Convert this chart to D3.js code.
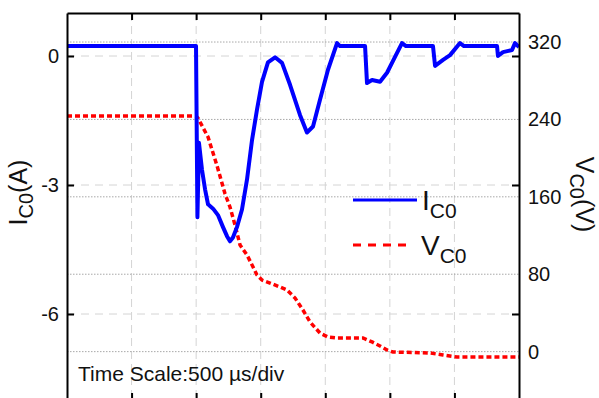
<!DOCTYPE html>
<html>
<head>
<meta charset="utf-8">
<script src="https://cdn.jsdelivr.net/npm/d3@7"></script>
<style>
  body { margin: 0; background: #fff; }
  svg { display: block; font-family: Arial, "Liberation Sans", sans-serif; }
</style>
</head>
<body>
<script>
// current I_C0 (A) vs time (us)
const iTime = [0, 999, 1010, 1022, 1045, 1069, 1092, 1131, 1169, 1208, 1239, 1262, 1285, 1316, 1355, 1394, 1433, 1471, 1510, 1556, 1611, 1665, 1727, 1804, 1858, 1905, 1959, 2021, 2091, 2114, 2308, 2323, 2362, 2424, 2478, 2540, 2594, 2625, 2834, 2850, 2912, 2966, 3043, 3074, 3330, 3337, 3376, 3446, 3469, 3500];
const iValue = [0.23, 0.23, -3.75, -2.02, -2.64, -3.10, -3.45, -3.55, -3.70, -3.98, -4.19, -4.31, -4.22, -3.98, -3.57, -2.87, -1.95, -1.25, -0.6, -0.15, -0.03, -0.16, -0.67, -1.37, -1.78, -1.64, -1.02, -0.32, 0.30, 0.23, 0.23, -0.63, -0.56, -0.60, -0.39, -0.02, 0.30, 0.23, 0.23, -0.23, -0.09, 0.02, 0.30, 0.23, 0.23, 0.0, 0.09, 0.14, 0.30, 0.21];

// voltage V_C0 (V) vs time (us)
const vTime = [0, 999, 1014, 1092, 1162, 1223, 1262, 1301, 1340, 1394, 1433, 1471, 1510, 1572, 1649, 1704, 1766, 1827, 1882, 1959, 2021, 2091, 2292, 2362, 2424, 2478, 2524, 2811, 2912, 3020, 3500];
const vValue = [243.5, 243.5, 241.4, 221.8, 192, 163.4, 149.5, 130.9, 110.2, 99.8, 89.5, 79.2, 74.0, 70.9, 66.8, 63.7, 55.4, 43.0, 30.6, 19.2, 15.1, 14.1, 14.1, 10.0, 5.8, 1.7, -0.4, -1.4, -3.5, -5.6, -5.6];

const xTicks = [500, 1000, 1500, 2000, 2500, 3000];
const leftTicks = [-6, -3, 0];
const rightTicks = [0, 80, 160, 240, 320];

const width = 599, height = 398;
const x0 = 67, x1 = 519, yTop = 13, yBot = 400;

const svg = d3.select("body").append("svg")
  .attr("width", width).attr("height", height);

const x = d3.scaleLinear().domain([0, 3500]).range([x0, x1]);
const yL = d3.scaleLinear().domain([-8, 1]).range([yBot, yTop]);
const yR = d3.scaleLinear().domain([-50, 350]).range([yBot, yTop]);

// grid
const grid = svg.append("g");
grid.selectAll(".vg").data(xTicks).join("line")
  .attr("x1", d => x(d)).attr("x2", d => x(d))
  .attr("y1", yTop).attr("y2", yBot)
  .attr("stroke", "#d4d4d4").attr("stroke-width", 1).attr("stroke-dasharray", "8,5");
grid.selectAll(".hl").data(leftTicks).join("line")
  .attr("x1", x0).attr("x2", x1)
  .attr("y1", d => yL(d)).attr("y2", d => yL(d))
  .attr("stroke", "#d4d4d4").attr("stroke-width", 1).attr("stroke-dasharray", "8,6");
grid.selectAll(".hr").data(rightTicks).join("line")
  .attr("x1", x0).attr("x2", x1)
  .attr("y1", d => yR(d)).attr("y2", d => yR(d))
  .attr("stroke", "#a8a8a8").attr("stroke-width", 1).attr("stroke-dasharray", "1.5,1.5");

// curves
svg.append("clipPath").attr("id", "clip")
  .append("rect").attr("x", x0).attr("y", yTop).attr("width", x1 - x0).attr("height", yBot - yTop);

const lineI = d3.line().x(d => x(d[0])).y(d => yL(d[1]));
const lineV = d3.line().x(d => x(d[0])).y(d => yR(d[1]));

svg.append("path")
  .datum(vTime.map((t, i) => [t, vValue[i]]))
  .attr("clip-path", "url(#clip)")
  .attr("d", lineV)
  .attr("fill", "none").attr("stroke", "#ff0000").attr("stroke-width", 3.5)
  .attr("stroke-dasharray", "5,3");

svg.append("path")
  .datum(iTime.map((t, i) => [t, iValue[i]]))
  .attr("clip-path", "url(#clip)")
  .attr("d", lineI)
  .attr("fill", "none").attr("stroke", "#0000ff").attr("stroke-width", 4)
  .attr("stroke-linejoin", "round");

// axes
function styleAxis(g) {
  g.select(".domain").attr("stroke", "#000").attr("stroke-width", 2);
  g.selectAll(".tick line").attr("stroke", "#000").attr("stroke-width", 2);
  g.selectAll(".tick text").attr("fill", "#111").attr("font-size", 20)
    .attr("font-family", "Arial, 'Liberation Sans', sans-serif");
}

svg.append("g").attr("transform", `translate(0,${yTop})`)
  .call(d3.axisTop(x).tickValues(xTicks).tickSizeInner(-7).tickSizeOuter(0).tickFormat(""))
  .call(styleAxis);
svg.append("g").attr("transform", `translate(0,${yBot})`)
  .call(d3.axisBottom(x).tickValues(xTicks).tickSizeInner(-7).tickSizeOuter(0).tickFormat(""))
  .call(styleAxis);
svg.append("g").attr("transform", `translate(${x0},0)`)
  .call(d3.axisLeft(yL).tickValues(leftTicks).tickSizeInner(-7).tickSizeOuter(0).tickPadding(8).tickFormat(d => String(d)))
  .call(styleAxis);
svg.append("g").attr("transform", `translate(${x1},0)`)
  .call(d3.axisRight(yL).tickValues(leftTicks).tickSizeInner(-7).tickSizeOuter(0).tickFormat(""))
  .call(styleAxis);
svg.append("g").attr("transform", `translate(${x1},0)`)
  .call(d3.axisRight(yR).tickValues(rightTicks).tickSize(0).tickPadding(9))
  .call(styleAxis)
  .call(g => g.select(".domain").remove());

// axis titles
const lt = svg.append("text")
  .attr("transform", `translate(27,${(yTop + yBot) / 2 - 14}) rotate(-90)`)
  .attr("text-anchor", "middle").attr("font-size", 25).attr("fill", "#111");
lt.append("tspan").text("I");
lt.append("tspan").attr("font-size", 20).attr("dy", 6).text("C0");
lt.append("tspan").attr("dy", -6).text("(A)");

const rt = svg.append("text")
  .attr("transform", `translate(576,${(yTop + yBot) / 2 - 12}) rotate(90)`)
  .attr("text-anchor", "middle").attr("font-size", 25).attr("fill", "#111");
rt.append("tspan").text("V");
rt.append("tspan").attr("font-size", 20).attr("dy", 6).text("C0");
rt.append("tspan").attr("dy", -6).text("(V)");

// legend
const legend = svg.append("g");
legend.append("line").attr("x1", 353).attr("x2", 417).attr("y1", 200).attr("y2", 200)
  .attr("stroke", "#0000ff").attr("stroke-width", 3);
legend.append("line").attr("x1", 353).attr("x2", 410).attr("y1", 245).attr("y2", 245)
  .attr("stroke", "#ff0000").attr("stroke-width", 3).attr("stroke-dasharray", "8,7");
const l1 = legend.append("text").attr("x", 422).attr("y", 210).attr("font-size", 28).attr("fill", "#111");
l1.append("tspan").text("I");
l1.append("tspan").attr("font-size", 21).attr("dy", 8).text("C0");
const l2 = legend.append("text").attr("x", 421).attr("y", 255).attr("font-size", 28).attr("fill", "#111");
l2.append("tspan").text("V");
l2.append("tspan").attr("font-size", 21).attr("dy", 8).text("C0");

// annotation
svg.append("text").attr("x", 78).attr("y", 381).attr("font-size", 21).attr("fill", "#111")
  .text("Time Scale:500 \u00b5s/div");
</script>
</body>
</html>
